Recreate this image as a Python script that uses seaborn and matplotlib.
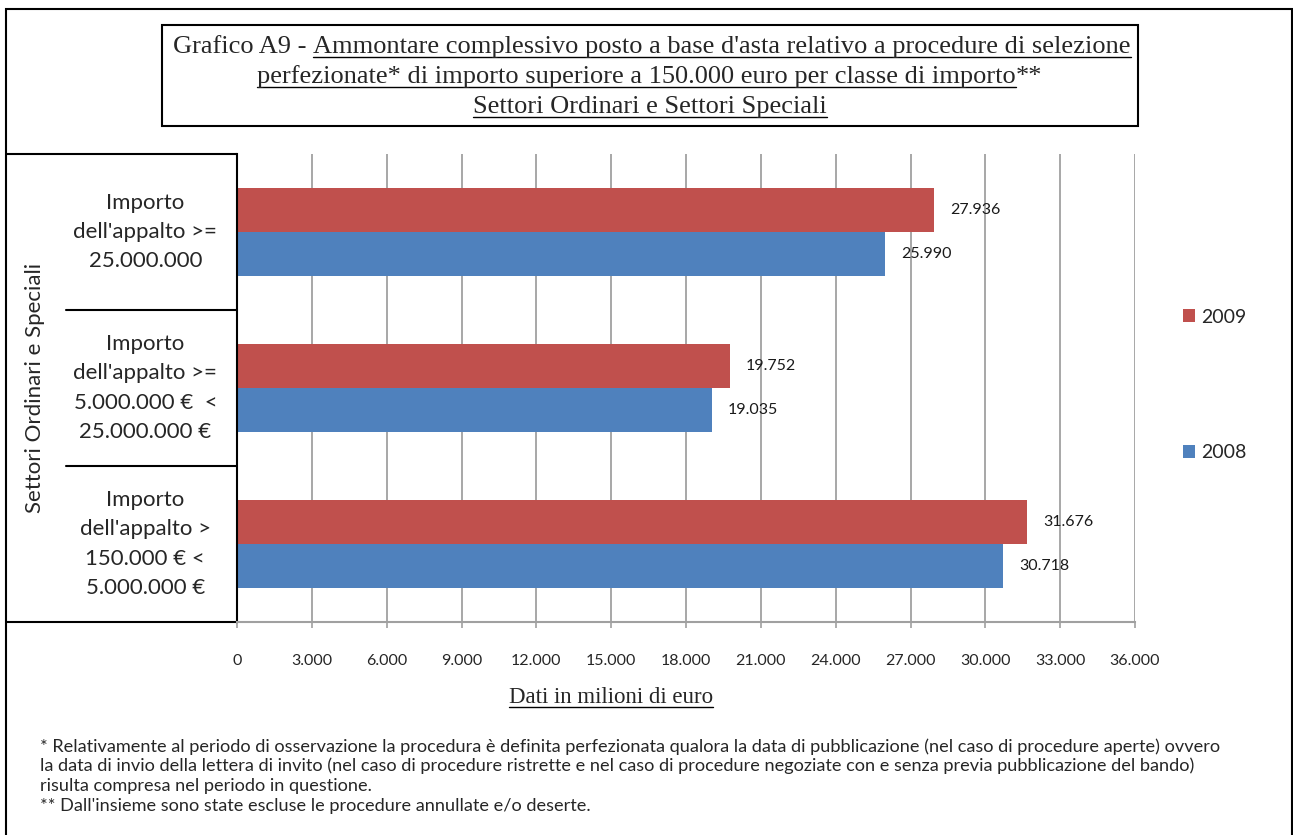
import matplotlib
matplotlib.use("Agg")
import matplotlib.pyplot as plt
import matplotlib.patches as patches
import seaborn as sns
import pandas as pd

# dati (milioni di euro)
categorie = [
    "Importo\ndell'appalto >=\n25.000.000",
    "Importo\ndell'appalto >=\n5.000.000 €  <\n25.000.000 €",
    "Importo\ndell'appalto >\n150.000 € <\n5.000.000 €",
]
anni = ["2009", "2008"]
valori_2009 = [27936, 19752, 31676]
valori_2008 = [25990, 19035, 30718]
xticks = list(range(0, 36001, 3000))

colori = {"2009": "#C0504D", "2008": "#4F81BD"}

df = pd.DataFrame({
    "categoria": categorie * 2,
    "anno": ["2009"] * 3 + ["2008"] * 3,
    "valore": valori_2009 + valori_2008,
})

sns.set_style("white")
plt.rcParams["font.family"] = ["Lato", "DejaVu Sans"]

W, H = 1293, 835
fig = plt.figure(figsize=(W / 100, H / 100), dpi=100)
ax = fig.add_axes([237 / W, 1 - 622 / H, 898 / W, 468 / H])

sns.barplot(data=df, y="categoria", x="valore", hue="anno", hue_order=anni,
            order=categorie, palette=colori, orient="h", width=0.57,
            saturation=1, linewidth=0, ax=ax)

# etichette dati
for cont in ax.containers:
    vals = [b.get_width() for b in cont]
    ax.bar_label(cont, labels=[f"{int(v):,}".replace(",", ".") for v in vals],
                 padding=11.5, fontsize=11.5, color="#1a1a1a")

ax.set_xlim(0, 36000)
ax.set_ylim(2.5, -0.5)
ax.set_xticks(xticks)
ax.set_xticklabels([f"{t:,}".replace(",", ".") for t in xticks], fontsize=11.5)
ax.tick_params(axis="x", length=4, width=1.2, color="#a0a0a0", pad=19, direction="out",
               bottom=True)
ax.grid(axis="x", color="#a0a0a0", linewidth=1.3)
ax.set_axisbelow(True)
ax.set_xlabel("")
ax.set_ylabel("")
for s in ["top", "right"]:
    ax.spines[s].set_visible(False)
ax.spines["bottom"].set_color("#a0a0a0")
ax.spines["bottom"].set_linewidth(1.5)
ax.spines["left"].set_color("black")
ax.spines["left"].set_linewidth(1.5)

# etichette categorie centrate nella tabella a sinistra
ax.tick_params(axis="y", length=0, pad=66)
for lab in ax.get_yticklabels():
    lab.set_ha("center")
    lab.set_va("center")
    lab.set_fontsize(16)
    lab.set_linespacing(1.58)

# linee della tabella
tr = ax.get_yaxis_transform()
ax.plot([-0.256, 0], [-0.5, -0.5], transform=tr, color="black", lw=1.5, clip_on=False)
ax.plot([-0.256, 0], [2.5, 2.5], transform=tr, color="black", lw=1.5, clip_on=False)
for yb in [0.5, 1.5]:
    ax.plot([-0.19, 0], [yb, yb], transform=tr, color="black", lw=1.5, clip_on=False)

fig.text(35 / W, 1 - 388 / H, "Settori Ordinari e Speciali", rotation=90,
         ha="center", va="center", fontsize=16)

# legenda
leg = ax.legend(loc="center left", bbox_to_anchor=(1165 / W, 1 - 385 / H),
                bbox_transform=fig.transFigure, frameon=False, fontsize=14,
                handlelength=0.65, handleheight=0.65, handletextpad=0.3,
                labelspacing=6.1)

renderer = fig.canvas.get_renderer()


def riga(cx, yb, parti, **kw):
    # testo centrato con parti sottolineate
    txts = []
    for s, u in parti:
        t = fig.text(0, 0, s, ha="left", va="baseline", **kw)
        txts.append((t, u))
    widths = [t.get_window_extent(renderer).width for t, _ in txts]
    x = cx - sum(widths) / 2
    for (t, u), w in zip(txts, widths):
        t.set_position((x / W, 1 - yb / H))
        if u:
            fig.add_artist(plt.Line2D([x / W, (x + w) / W],
                                      [1 - (yb + 4) / H] * 2, color="black", lw=1))
        x += w


serif = dict(family=["Liberation Serif", "DejaVu Serif"], fontsize=19)
riga(652, 53, [("Grafico A9 - ", False),
               ("Ammontare complessivo posto a base d'asta relativo a procedure di selezione", True)], **serif)
riga(650, 83, [("perfezionate* di importo superiore a 150.000 euro per classe di importo", True),
               ("**", False)], **serif)
riga(650, 113, [("Settori Ordinari e Settori Speciali", True)], **serif)

fig.add_artist(patches.Rectangle((162 / W, 1 - 126 / H), 976 / W, 101 / H,
                                 transform=fig.transFigure, fill=False,
                                 edgecolor="black", lw=1.5))

riga(611, 703, [("Dati in milioni di euro", True)],
     family=["Liberation Serif", "DejaVu Serif"], fontsize=16.5)

note = [
    "* Relativamente al periodo di osservazione la procedura è definita perfezionata qualora la data di pubblicazione (nel caso di procedure aperte) ovvero",
    "la data di invio della lettera di invito (nel caso di procedure ristrette e nel caso di procedure negoziate con e senza previa pubblicazione del bando)",
    "risulta compresa nel periodo in questione.",
    "** Dall'insieme sono state escluse le procedure annullate e/o deserte.",
]
for i, n in enumerate(note):
    fig.text(40 / W, 1 - (752 + 19.5 * i) / H, n, ha="left", va="baseline", fontsize=13.1)

# cornice esterna
fig.add_artist(patches.Rectangle((6 / W, -0.02), 1286 / W, 1 - 9 / H + 0.02,
                                 transform=fig.transFigure, fill=False,
                                 edgecolor="black", lw=1.5))

fig.savefig("out.png", dpi=100)
